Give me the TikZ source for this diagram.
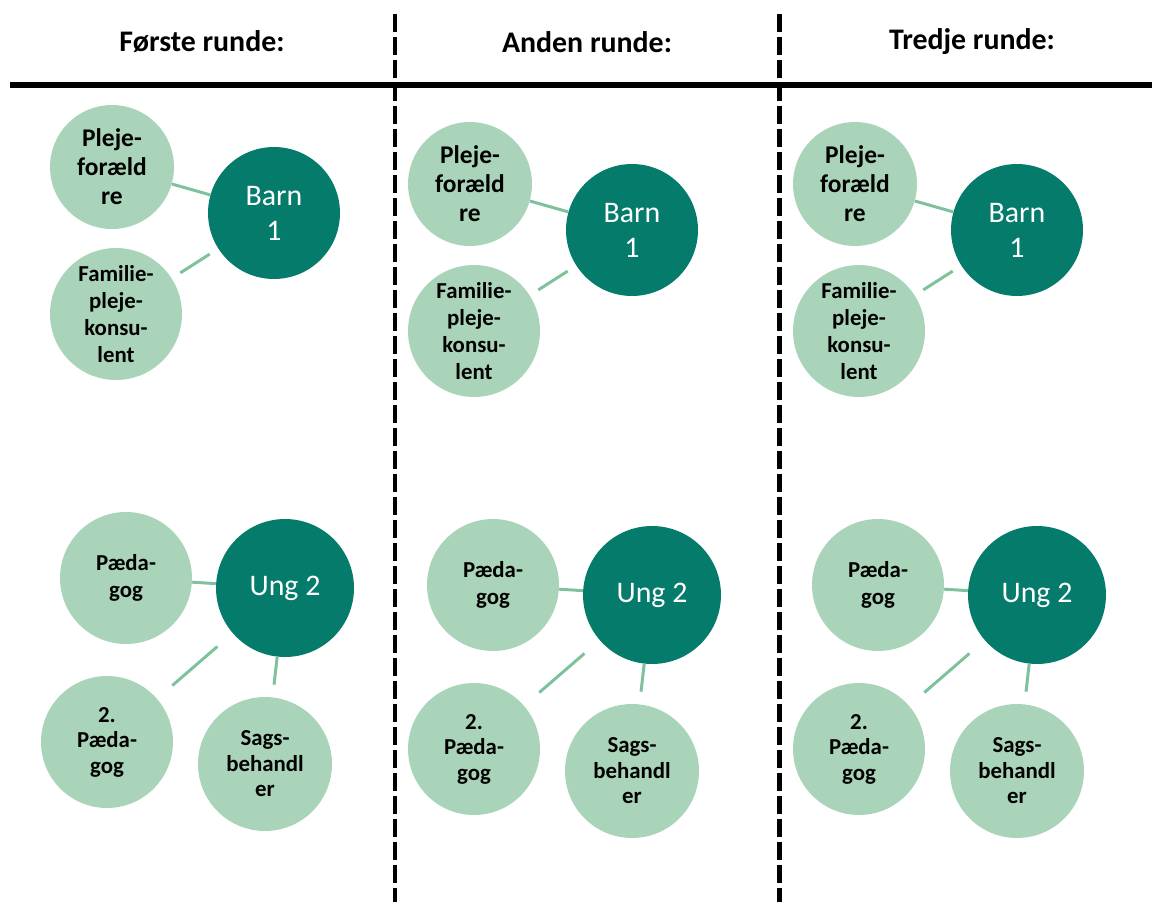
\documentclass[tikz,border=0pt]{standalone}
\usepackage{fontspec}
\setmainfont{Carlito}
\definecolor{darkgreen}{HTML}{047B6B}
\definecolor{lightgreen}{HTML}{A9D4B9}
\definecolor{linegreen}{HTML}{7DC29B}
\tikzset{
  heading/.style={font=\bfseries\fontsize{17}{20}\selectfont},
  kid/.style={circle, fill=darkgreen, text=white, inner sep=0pt, align=center,
    minimum size=2.64cm, font=\fontsize{17}{20}\selectfont},
  helper/.style={circle, fill=lightgreen, text=black, inner sep=0pt, align=center,
    minimum size=2.64cm, font=\bfseries\fontsize{13}{14.5}\selectfont},
  link/.style={draw=linegreen, line width=1.7pt},
  sep/.style={line width=2.3pt, dash pattern=on 0.36cm off 0.1cm}
}
\begin{document}
\begin{tikzpicture}[x=0.02cm,y=-0.02cm]
  \useasboundingbox (0,0) rectangle (1152,902);

  % Headings
  \node[heading] (h1) at (202,42) {Første runde:};
  \node[heading] (h2) at (587,42) {Anden runde:};
  \node[heading] (h3) at (972,42) {Tredje runde:};

  % Rule and dashed separators
  \draw[line width=3.1pt] (10,85) -- (1152,85);
  \draw[sep] (395,14) -- (395,902);
  \draw[sep] (779.5,14) -- (779.5,902);

  \foreach \i/\ux/\uy/\lx/\ly in {1/0/0/0/0, 2/358/17/367/7, 3/743/17/752/7}{
    % Barn 1
    \begin{scope}[shift={(\ux,\uy)}]
      \node[kid] (barn\i) at (274,213) {Barn\\1};
      \node[helper, minimum size=2.48cm, font=\bfseries\fontsize{14.5}{16.5}\selectfont]
        (pleje\i) at (112,167) {Pleje-\\foræld\\re};
      \node[helper, font=\bfseries\fontsize{13}{15.3}\selectfont]
        (fam\i) at (116,314) {Familie-\\pleje-\\konsu-\\lent};
    \end{scope}
    \draw[link] (pleje\i) -- (barn\i);
    \draw[link, shorten <=0.2cm, shorten >=0.2cm] (fam\i) -- (barn\i);

    % Ung 2
    \begin{scope}[shift={(\lx,\ly)}]
      \node[kid, minimum size=2.76cm] (ung\i) at (285,588) {Ung 2};
      \node[helper, font=\bfseries\fontsize{13}{15.3}\selectfont]
        (paed\i) at (126,578) {Pæda-\\gog};
      \node[helper] (paedb\i) at (107,742) {2.\\Pæda-\\gog};
      \node[helper, minimum size=2.68cm] (sags\i) at (265,764) {Sags-\\behandl\\er};
    \end{scope}
    \draw[link] (paed\i) -- (ung\i);
    \draw[link, shorten <=0.4cm, shorten >=0.4cm] (paedb\i) -- (ung\i);
    \draw[link, shorten <=0.25cm] (sags\i) -- (ung\i);
  }
\end{tikzpicture}
\end{document}
